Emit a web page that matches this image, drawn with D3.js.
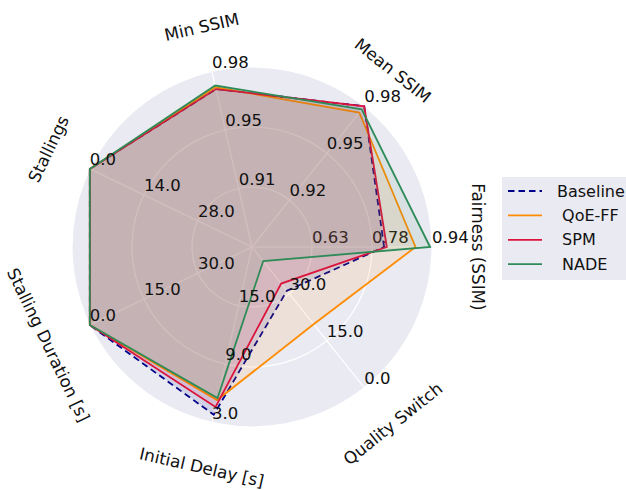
<!DOCTYPE html>
<html>
<head>
<meta charset="utf-8">
<script src="https://cdn.jsdelivr.net/npm/d3@7"></script>
<style>
  body { margin: 0; background: #ffffff; }
  svg { display: block; font-family: "DejaVu Sans", sans-serif; }
  text { white-space: pre; }
</style>
</head>
<body>
<svg id="chart" width="626" height="490"></svg>
<script>
// Radar axes, counter-clockwise from the east
const axisNames = ["Fairness (SSIM)", "Mean SSIM", "Min SSIM", "Stallings",
                   "Stalling Duration [s]", "Initial Delay [s]", "Quality Switch"];
// value at the centre, value at the rim (lower-is-better axes are reversed)
const axisRanges = [[0.47, 0.94], [0.89, 0.98], [0.88, 0.98], [42, 0], [45, 0], [21, 3], [45, 0]];
const tickLabels = [["0.63", "0.78", "0.94"], ["0.92", "0.95", "0.98"], ["0.91", "0.95", "0.98"],
                    ["28.0", "14.0", "0.0"], ["30.0", "15.0", "0.0"], ["15.0", "9.0", "3.0"],
                    ["30.0", "15.0", "0.0"]];

const seriesNames = ["Baseline", " QoE-FF", " SPM", " NADE"];
const baseline = [0.815, 0.980, 0.970, 0, 0, 3.8, 31.0];
const qoeFF    = [0.897, 0.976, 0.971, 0, 0, 5.3, 20.3];
const spm      = [0.822, 0.980, 0.970, 0, 0, 4.6, 33.3];
const nade     = [0.935, 0.978, 0.972, 0, 0, 5.5, 40.5];
const seriesColors = ["#00008b", "#ff8c00", "#dc143c", "#2e8b57"];

const allSeries = [baseline, qoeFF, spm, nade];

const svg = d3.select("#chart");
const cx = 252, cy = 247, R = 180;
const n = axisNames.length;
const theta = i => i * 2 * Math.PI / n;          // math angle, CCW from east
const d3Angle = i => Math.PI / 2 - theta(i);      // d3 radial angle, CW from north

const scales = axisRanges.map(r => d3.scaleLinear().domain(r).range([0, R]));

const g = svg.append("g").attr("transform", `translate(${cx},${cy})`);

// plotting area
g.append("circle").attr("r", R).attr("fill", "#eaeaf2");

// grid rings and spokes
const grid = g.append("g").attr("stroke", "#ffffff").attr("stroke-width", 1.2).attr("fill", "none");
[1, 2, 3].forEach(k => grid.append("circle").attr("r", R * k / 3));
d3.range(n).forEach(i => {
  grid.append("line")
    .attr("x1", 0).attr("y1", 0)
    .attr("x2", R * Math.cos(theta(i))).attr("y2", -R * Math.sin(theta(i)));
});

function drawTicks(layer, i) {
  const [lo, hi] = axisRanges[i];
  tickLabels[i].forEach((lab, k) => {
    const v = lo + (hi - lo) * (k + 1) / 3;
    const r = scales[i](v);
    layer.append("text")
      .attr("x", r * Math.cos(theta(i)))
      .attr("y", -r * Math.sin(theta(i)) - 3.8)
      .attr("font-size", 16.5)
      .attr("fill", "#111111")
      .text(lab);
  });
}

// the first axis' labels sit beneath the filled areas
drawTicks(g.append("g"), 0);

// series polygons
const radial = vals => d3.lineRadial()
  .angle((d, i) => d3Angle(i))
  .radius((d, i) => scales[i](d))
  .curve(d3.curveLinearClosed)(vals);

allSeries.forEach((vals, s) => {
  g.append("path")
    .attr("d", radial(vals))
    .attr("fill", seriesColors[s])
    .attr("fill-opacity", 0.1)
    .attr("stroke", "none");
  g.append("path")
    .attr("d", radial(vals))
    .attr("fill", "none")
    .attr("stroke", seriesColors[s])
    .attr("stroke-width", 1.8)
    .attr("stroke-linejoin", "miter")
    .attr("stroke-dasharray", s === 0 ? "6.5,4" : null);
});

// remaining axes' labels on top
const upperTicks = g.append("g");
d3.range(1, n).forEach(i => drawTicks(upperTicks, i));

// axis titles
axisNames.forEach((name, i) => {
  const rl = R * 1.255;
  const x = rl * Math.cos(theta(i)), y = -rl * Math.sin(theta(i));
  let rot = 90 - theta(i) * 180 / Math.PI;
  while (rot > 90) rot -= 180;
  while (rot < -90) rot += 180;
  g.append("text")
    .attr("transform", `translate(${x},${y}) rotate(${rot})`)
    .attr("text-anchor", "middle")
    .attr("dominant-baseline", "central")
    .attr("font-size", 16.8)
    .attr("fill", "#111111")
    .text(name);
});

// legend
const leg = svg.append("g").attr("transform", "translate(502,177)");
leg.append("rect").attr("width", 140).attr("height", 103).attr("fill", "#eaeaf2");
seriesNames.forEach((name, s) => {
  const y = 14 + s * 24.4;
  leg.append("line")
    .attr("x1", 6).attr("x2", 40).attr("y1", y).attr("y2", y)
    .attr("stroke", seriesColors[s]).attr("stroke-width", 1.8)
    .attr("stroke-dasharray", s === 0 ? "6.5,4" : null);
  leg.append("text")
    .attr("x", 55).attr("y", y)
    .attr("dominant-baseline", "central")
    .attr("font-size", 16)
    .attr("fill", "#111111")
    .text(name);
});
</script>
</body>
</html>
